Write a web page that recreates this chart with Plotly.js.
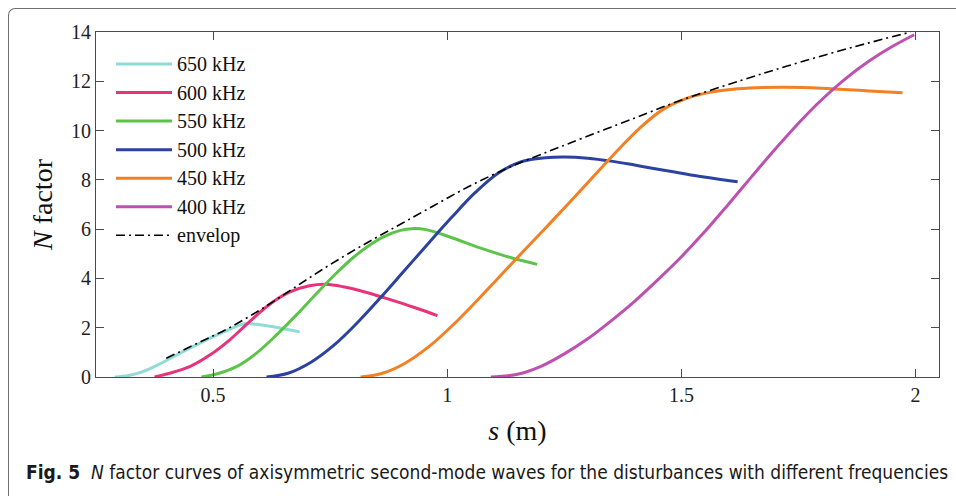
<!DOCTYPE html>
<html>
<head>
<meta charset="utf-8">
<script src="https://cdn.plot.ly/plotly-3.0.1.min.js"></script>
<style>
  html, body { margin: 0; padding: 0; background: #fff; }
  #wrap { position: relative; width: 956px; height: 496px; overflow: hidden; }
  #chart { position: absolute; left: 0; top: 0; width: 956px; height: 496px; }
  #frame { position: absolute; left: 8px; top: 8px; width: 1000px; height: 600px;
           border-left: 1.5px solid #6e6e6e; border-top: 1.5px solid #6e6e6e;
           border-top-left-radius: 7px; pointer-events: none; }
</style>
</head>
<body>
<div id="wrap"><div id="chart"></div><div id="frame"></div></div>
<script>
// ---------------- data ----------------
const seriesNames = ['650 kHz', '600 kHz', '550 kHz', '500 kHz', '450 kHz', '400 kHz', 'envelop'];

const s650 = [0.29, 0.32, 0.35, 0.38, 0.41, 0.44, 0.47, 0.50, 0.53, 0.555, 0.572, 0.60, 0.64, 0.685];
const n650 = [0.00, 0.06, 0.22, 0.47, 0.77, 1.07, 1.36, 1.64, 1.89, 2.10, 2.17, 2.12, 2.00, 1.83];

const s600 = [0.375, 0.407, 0.45, 0.493, 0.535, 0.578, 0.621, 0.664, 0.706, 0.74, 0.778, 0.83, 0.88, 0.93, 0.979];
const n600 = [0.00, 0.15, 0.42, 0.89, 1.50, 2.25, 2.95, 3.45, 3.70, 3.76, 3.66, 3.42, 3.13, 2.82, 2.49];

const s550 = [0.475, 0.507, 0.55, 0.592, 0.635, 0.678, 0.721, 0.763, 0.80, 0.83, 0.865, 0.90, 0.925, 0.957, 1.007, 1.078, 1.135, 1.192];
const n550 = [0.00, 0.12, 0.42, 0.96, 1.70, 2.52, 3.39, 4.21, 4.86, 5.30, 5.70, 5.95, 6.02, 5.97, 5.67, 5.19, 4.85, 4.57];

const s500 = [0.614, 0.66, 0.71, 0.76, 0.81, 0.86, 0.91, 0.96, 1.01, 1.06, 1.11, 1.16, 1.21, 1.25, 1.30, 1.35, 1.40, 1.45, 1.52, 1.62];
const n500 = [0.00, 0.15, 0.61, 1.32, 2.24, 3.27, 4.35, 5.43, 6.49, 7.49, 8.29, 8.75, 8.90, 8.93, 8.88, 8.76, 8.60, 8.43, 8.20, 7.92];

const s450 = [0.815, 0.86, 0.91, 0.96, 1.01, 1.06, 1.11, 1.16, 1.21, 1.26, 1.31, 1.36, 1.41, 1.46, 1.51, 1.56, 1.61, 1.66, 1.72, 1.80, 1.90, 1.972];
const n450 = [0.00, 0.14, 0.56, 1.22, 2.07, 3.03, 4.04, 5.05, 6.05, 7.06, 8.09, 9.12, 10.08, 10.85, 11.30, 11.55, 11.68, 11.74, 11.76, 11.72, 11.61, 11.53];

const s400 = [1.093, 1.15, 1.20, 1.25, 1.30, 1.35, 1.40, 1.45, 1.50, 1.55, 1.60, 1.65, 1.70, 1.75, 1.80, 1.85, 1.90, 1.95, 1.997];
const n400 = [0.00, 0.11, 0.43, 0.94, 1.55, 2.28, 3.07, 3.95, 4.88, 5.90, 7.00, 8.13, 9.24, 10.30, 11.26, 12.10, 12.81, 13.41, 13.89];

const sEnv = [0.40, 0.47, 0.535, 0.607, 0.678, 0.749, 0.829, 0.90, 0.971, 1.043, 1.114, 1.185, 1.256, 1.399, 1.506, 1.627, 1.726, 1.869, 1.99];
const nEnv = [0.76, 1.40, 2.00, 2.80, 3.68, 4.55, 5.45, 6.20, 6.95, 7.70, 8.35, 8.92, 9.45, 10.50, 11.28, 12.03, 12.62, 13.40, 14.00];

const xTickVals = [0.5, 1, 1.5, 2];
const xTickText = ['0.5', '1', '1.5', '2'];
const yTickVals = [0, 2, 4, 6, 8, 10, 12, 14];
const yTickText = ['0', '2', '4', '6', '8', '10', '12', '14'];

// ---------------- styles ----------------
const colors = ['#8fdcd6', '#e8327a', '#5cc44a', '#2c42a0', '#f28024', '#be50b0', '#000000'];
const xs = [s650, s600, s550, s500, s450, s400, sEnv];
const ys = [n650, n600, n550, n500, n450, n400, nEnv];
const serif = '"Liberation Serif", "Times New Roman", Times, serif';
const envDash = '9px,4px,2px,4px';

const traces = xs.map((x, i) => ({
  type: 'scatter', mode: 'lines', name: seriesNames[i],
  x: x, y: ys[i], showlegend: false, hoverinfo: 'skip',
  line: {
    color: colors[i],
    width: i === 6 ? 1.6 : 3,
    shape: 'spline', smoothing: 1,
    dash: i === 6 ? envDash : 'solid'
  }
}));

// ---------------- custom legend (MATLAB-like) ----------------
const W = 956, H = 496, mL = 96, mR = 17, mT = 32, mB = 119;
const pw = W - mL - mR, ph = H - mT - mB;
const px2x = p => (p - mL) / pw;
const py2y = p => (H - mB - p) / ph;

const shapes = [];
const annotations = [];
seriesNames.forEach((name, i) => {
  const yc = 64 + i * 28.55;
  shapes.push({
    type: 'line', xref: 'paper', yref: 'paper',
    x0: px2x(116), x1: px2x(172), y0: py2y(yc), y1: py2y(yc),
    line: { color: colors[i], width: i === 6 ? 1.6 : 3, dash: i === 6 ? envDash : 'solid' }
  });
  annotations.push({
    xref: 'paper', yref: 'paper', x: px2x(175), y: py2y(yc),
    xanchor: 'left', yanchor: 'middle', showarrow: false,
    text: name, font: { family: serif, size: 20, color: '#111' }
  });
});

annotations.push({
  xref: 'paper', yref: 'paper', x: px2x(24), y: py2y(472),
  xanchor: 'left', yanchor: 'middle', showarrow: false,
  text: '<b>Fig. 5</b>&nbsp;&nbsp;<i>N</i> factor curves of axisymmetric second-mode waves for the disturbances with different frequencies',
  font: { family: '"DejaVu Sans Condensed", "Liberation Sans Narrow", "Arial Narrow", sans-serif', size: 19, color: '#1a1a1a' }
});

const axisCommon = {
  showgrid: false, zeroline: false, showline: true,
  linecolor: '#4a4a4a', linewidth: 1,
  ticks: 'inside', ticklen: 8, tickwidth: 1, tickcolor: '#4a4a4a',
  mirror: 'ticks',
  tickfont: { family: serif, size: 20, color: '#222' }
};

const layout = {
  width: W, height: H,
  margin: { l: mL, r: mR, t: mT, b: mB },
  paper_bgcolor: '#fff', plot_bgcolor: '#fff',
  showlegend: false,
  xaxis: Object.assign({}, axisCommon, {
    range: [0.25, 2.05], tickmode: 'array', tickvals: xTickVals, ticktext: xTickText,
    title: { text: '<i>s</i> (m)', font: { family: serif, size: 28, color: '#111' }, standoff: 15 }
  }),
  yaxis: Object.assign({}, axisCommon, {
    range: [0, 14], tickmode: 'array', tickvals: yTickVals, ticktext: yTickText,
    title: { text: '<i>N</i> factor', font: { family: serif, size: 28, color: '#111' }, standoff: 10 }
  }),
  shapes: shapes,
  annotations: annotations
};

Plotly.newPlot('chart', traces, layout, { staticPlot: true, displayModeBar: false });
</script>
</body>
</html>
